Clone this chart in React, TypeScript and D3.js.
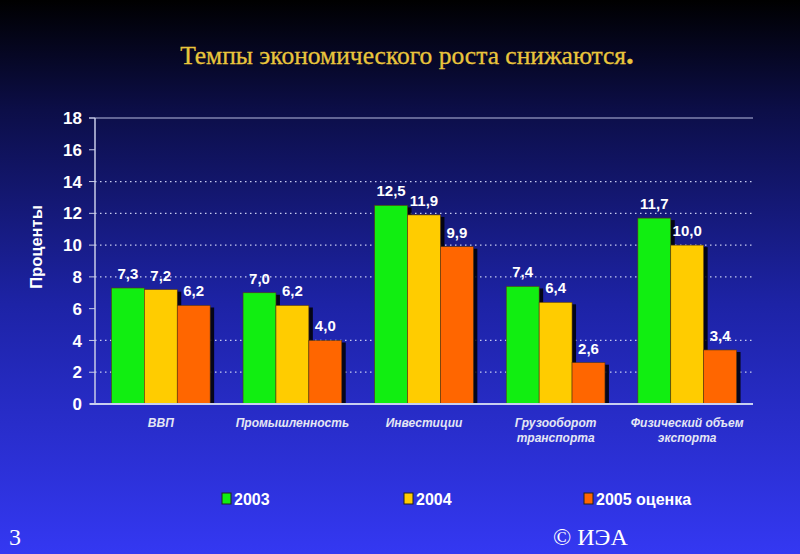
import React from "react";
import * as d3 from "d3";

const categories = [
  ["ВВП"],
  ["Промышленность"],
  ["Инвестиции"],
  ["Грузооборот", "транспорта"],
  ["Физический объем", "экспорта"],
];
const seriesNames = ["2003", "2004", "2005 оценка"];
const values2003 = [7.3, 7.0, 12.5, 7.4, 11.7];
const values2004 = [7.2, 6.2, 11.9, 6.4, 10.0];
const values2005 = [6.2, 4.0, 9.9, 2.6, 3.4];
const yTicks = [0, 2, 4, 6, 8, 10, 12, 14, 16, 18];
const gridValues = [2, 4, 8, 10, 12, 14];
const colors = ["#11ee11", "#ffcc00", "#ff6600"];

const W = 800;
const H = 554;

export default function App() {
  const series = [values2003, values2004, values2005];
  const catKeys = categories.map((c) => c.join(" "));
  const x0 = d3.scaleBand<string>().domain(catKeys).range([95, 753]);
  const bw = x0.bandwidth();
  const gw = bw * 0.75;
  const x1 = d3
    .scaleBand<number>()
    .domain([0, 1, 2])
    .range([(bw - gw) / 2, (bw + gw) / 2]);
  const y = d3.scaleLinear().domain([0, 18]).range([404, 118]);
  const fmt = (v: number) => v.toFixed(1).replace(".", ",");
  const legendX = [222, 404, 584];

  return (
    <svg
      width={W}
      height={H}
      style={{ position: "absolute", left: 0, top: 0, display: "block" }}
      fontFamily="Liberation Sans, Arial, sans-serif"
    >
      <defs>
        <linearGradient id="bg" x1="0" y1="0" x2="0" y2="1">
          <stop offset="0%" stopColor="#000000" />
          <stop offset="20%" stopColor="#0c0e48" />
          <stop offset="55%" stopColor="#1d23a6" />
          <stop offset="100%" stopColor="#3438f2" />
        </linearGradient>
      </defs>
      <rect x={0} y={0} width={W} height={H} fill="url(#bg)" />

      <text
        x={407}
        y={64}
        textAnchor="middle"
        fontFamily="Liberation Serif, Times New Roman, serif"
        fontSize={25.5}
        fill="#e9c53c"
        stroke="#e9c53c"
        strokeWidth={0.3}
      >
        Темпы экономического роста снижаются
        <tspan fontWeight="bold" fontSize={31}>.</tspan>
      </text>

      {/* grid */}
      {gridValues.map((g) => (
        <line
          key={g}
          x1={95}
          x2={753}
          y1={y(g)}
          y2={y(g)}
          stroke="#c8ccf0"
          strokeWidth={1.2}
          strokeDasharray="1.5 3.5"
        />
      ))}
      <line x1={89} x2={753} y1={y(18)} y2={y(18)} stroke="#b8bce0" strokeWidth={1} />

      {/* y axis */}
      <line x1={95} x2={95} y1={y(18)} y2={y(0)} stroke="#c8cce8" strokeWidth={1.5} />
      {yTicks.map((t) => (
        <g key={t}>
          <line x1={89} x2={95} y1={y(t)} y2={y(t)} stroke="#c8cce8" strokeWidth={1} />
          <text
            x={82}
            y={y(t)}
            dy="0.36em"
            textAnchor="end"
            fontSize={17}
            fontWeight="bold"
            fill="#ffffff"
          >
            {t}
          </text>
        </g>
      ))}
      <text
        transform={`translate(42,247) rotate(-90)`}
        textAnchor="middle"
        fontSize={16.5}
        fontWeight="bold"
        fill="#ffffff"
      >
        Проценты
      </text>

      {/* bars */}
      {catKeys.map((k, ci) => (
        <g key={k} transform={`translate(${x0(k)},0)`}>
          {series.map((s, si) => (
            <rect
              key={"sh" + si}
              x={(x1(si) as number) + 4}
              y={y(s[ci]) + 2}
              width={x1.bandwidth()}
              height={y(0) - y(s[ci]) - 2}
              fill="#000000"
              opacity={0.85}
            />
          ))}
          {series.map((s, si) => (
            <rect
              key={"b" + si}
              x={x1(si) as number}
              y={y(s[ci])}
              width={x1.bandwidth()}
              height={y(0) - y(s[ci])}
              fill={colors[si]}
              stroke="#5a3a10"
              strokeWidth={0.6}
            />
          ))}
          {series.map((s, si) => (
            <text
              key={"l" + si}
              x={(x1(si) as number) + x1.bandwidth() / 2}
              y={y(s[ci]) - 9}
              textAnchor="middle"
              fontSize={15}
              fontWeight="bold"
              fill="#ffffff"
            >
              {fmt(s[ci])}
            </text>
          ))}
        </g>
      ))}

      {/* x axis */}
      <line x1={90} x2={753} y1={y(0)} y2={y(0)} stroke="#c8d0f0" strokeWidth={2} />
      {catKeys.map((k, ci) => (
        <text
          key={k}
          x={(x0(k) as number) + bw / 2}
          y={427}
          textAnchor="middle"
          fontSize={12}
          fontWeight="bold"
          fontStyle="italic"
          fill="#e4e6f4"
        >
          {categories[ci].map((line, li) => (
            <tspan key={li} x={(x0(k) as number) + bw / 2} dy={li === 0 ? 0 : 15}>
              {line}
            </tspan>
          ))}
        </text>
      ))}

      {/* legend */}
      {seriesNames.map((n, i) => (
        <g key={n}>
          <rect
            x={legendX[i]}
            y={493}
            width={9}
            height={11}
            fill={colors[i]}
            stroke="#222"
            strokeWidth={1}
          />
          <text
            x={legendX[i] + 12}
            y={499}
            dy="0.36em"
            fontSize={16}
            fontWeight="bold"
            fill="#ffffff"
          >
            {n}
          </text>
        </g>
      ))}

      {/* footer */}
      <text
        x={9}
        y={545}
        fontFamily="Liberation Serif, Times New Roman, serif"
        fontSize={24}
        fill="#ffffff"
      >
        3
      </text>
      <text
        x={553}
        y={545}
        fontFamily="Liberation Serif, Times New Roman, serif"
        fontSize={24}
        fill="#ffffff"
      >
        © ИЭА
      </text>
    </svg>
  );
}
